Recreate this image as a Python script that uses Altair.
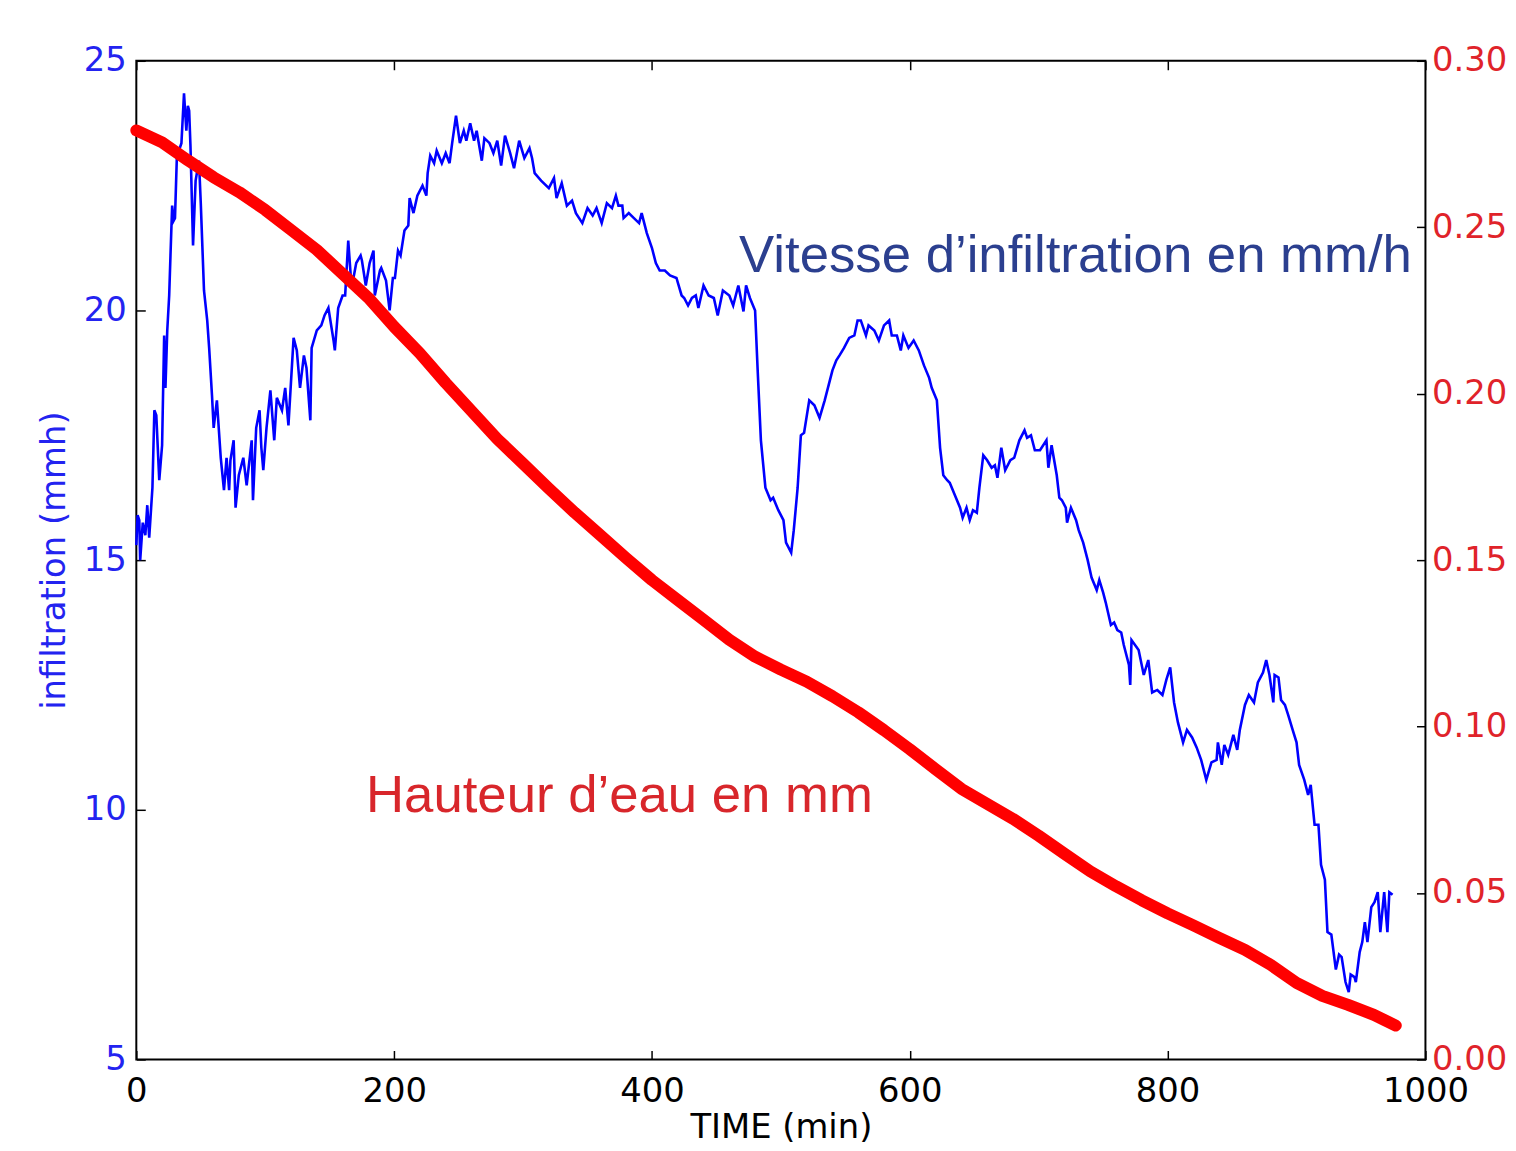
import altair as alt
import pandas as pd

# ---- data ----
t_inf = [0, 1, 2.3, 3, 5, 7, 8.5, 10, 12.5, 14, 15.5, 17.8, 20, 21.6, 22.6, 24, 25.5, 26.5, 27.8, 29,
         30, 31.6, 33, 35, 37, 38.8, 40, 41, 42, 44, 46, 48.6, 50, 52.5, 55, 56.5, 58.7, 60, 62.5, 65.5,
         68, 70, 72, 73, 75.5, 77, 79.5, 83, 85.6, 89.5, 90.5, 93, 95.6, 97, 98.5, 101, 104, 107, 109, 113,
         115.5, 118, 122, 124.5, 127, 130, 132, 135, 136, 140, 143.5, 146, 149, 153, 154, 156.6, 160, 162,
         164.4, 167, 170.6, 174, 175, 178, 181, 184, 185, 189, 190, 193.7, 196.5, 199, 200.6, 203, 205,
         208, 211, 212, 215, 218, 222, 225, 226, 228, 231, 233, 237, 240, 243, 245, 248, 251, 254, 256,
         259, 262, 264, 268, 270, 274, 277, 280, 283, 286, 290, 293, 297, 301, 305, 307, 309, 314, 320,
         324, 326, 330, 334, 338, 341, 346, 350, 354, 357, 361, 365, 369, 372, 374, 377, 378, 382, 386,
         390, 392, 396, 400, 403, 406, 410, 414, 419, 423, 425, 428, 431, 434, 436, 440, 444, 448, 451,
         455, 460, 463, 467, 471, 473, 476, 480, 482, 484.5, 488, 492, 494, 498, 502, 504, 508, 510, 513,
         515.5, 518, 522, 526, 530, 534, 538, 540, 543, 545.5, 549, 553, 557, 559.5, 562, 566, 568, 572.5,
         576, 580, 584, 586, 590, 593, 595, 599, 603, 607, 611, 615, 617, 621, 623.5, 626, 629, 631, 635,
         639, 641, 644, 646.5, 649, 652, 654, 657, 660, 663.5, 666, 668, 671, 674, 678, 681, 685, 689,
         691, 694, 697, 701, 706, 707.5, 710, 714, 716, 718, 721, 722, 725, 729, 731, 734.5, 738, 741,
         745, 747, 750, 752, 756, 758.5, 761, 764, 766, 770, 771, 772, 777.5, 781.5, 785, 788, 792, 796,
         799, 802, 805, 808, 812, 815, 819, 822.5, 826, 830, 834, 838, 839, 842, 844, 847, 851, 854, 856,
         860, 863, 867, 870, 874, 876.5, 879, 882, 883, 886, 888, 891, 893.5, 897, 900, 902, 906, 909,
         911, 914, 917, 919, 922, 924, 927, 930.5, 933, 935, 938, 940.5, 942, 945, 946, 949, 951, 953,
         955, 958, 960.5, 963, 965, 968, 970.5, 972, 974.5]
v_inf = [15.3, 15.9, 15.8, 15.0, 15.75, 15.5, 16.1, 15.45, 16.45, 18.0, 17.9, 16.6, 17.3, 19.5, 18.45, 19.6, 20.3, 21.1, 22.1, 21.8,
         21.85, 23.2, 23.2, 23.35, 24.35, 23.6, 24.1, 24.0, 23.3, 21.3, 22.6, 23.0, 22.15, 20.4, 19.8, 19.25, 18.3, 17.65, 18.2, 17.05,
         16.4, 17.05, 16.4, 17.0, 17.4, 16.05, 16.7, 17.05, 16.5, 17.4, 16.2, 17.65, 18.0, 17.25, 16.8, 17.65, 18.4, 17.4, 18.25, 18.0,
         18.45, 17.7, 19.45, 19.2, 18.45, 19.1, 18.85, 17.8, 19.25, 19.6, 19.7, 19.9, 20.05, 19.4, 19.2, 20.05, 20.3, 20.3,
         21.4, 20.45, 20.95, 21.1, 21.0, 20.5, 20.95, 21.2, 20.3, 20.8, 20.85, 20.6, 20.0, 20.65, 20.65, 21.2, 21.1,
         21.6, 21.7, 22.25, 21.95, 22.3, 22.5, 22.3, 22.75, 23.1, 22.95, 23.2, 22.95, 23.15, 22.95, 23.35, 23.9, 23.35, 23.6, 23.4,
         23.75, 23.4, 23.6, 23.0, 23.45, 23.35, 23.15, 23.4, 22.9, 23.5, 23.15, 22.85, 23.4, 23.05, 23.25, 23.05, 22.75, 22.6, 22.45,
         22.65, 22.25, 22.55, 22.1, 22.2, 21.95, 21.75, 22.05, 21.9, 22.05, 21.75, 22.15, 22.05, 22.3, 22.1, 22.1, 21.85, 21.95, 21.85,
         21.75, 21.95, 21.55, 21.25, 20.95, 20.8, 20.8, 20.7, 20.65, 20.3, 20.25, 20.1, 20.25, 20.3, 20.05, 20.5, 20.3, 20.25, 19.9,
         20.4, 20.3, 20.1, 20.5, 19.98, 20.5, 20.25, 20.0, 18.8, 17.4, 16.45, 16.2, 16.25, 16.0, 15.8, 15.35, 15.15, 15.6, 16.45,
         17.5, 17.55, 18.2, 18.1, 17.85, 18.2, 18.6, 18.8, 19.0, 19.1, 19.25, 19.45, 19.5, 19.8, 19.8, 19.5, 19.7, 19.6,
         19.4, 19.7, 19.8, 19.5, 19.5, 19.2, 19.5, 19.25, 19.4, 19.2, 18.9, 18.65, 18.45, 18.2, 17.25, 16.7, 16.6, 16.55, 16.3,
         16.05, 15.85, 16.05, 15.8, 16.0, 15.95, 16.45, 17.1, 17.0, 16.85, 16.9, 16.65, 17.25, 16.8, 17.0, 17.05, 17.4, 17.6,
         17.45, 17.5, 17.2, 17.2, 17.4, 16.85, 17.3, 16.7, 16.25, 16.2, 16.05, 15.75, 16.05, 15.8, 15.6, 15.35, 15.0, 14.65,
         14.4, 14.6, 14.35, 14.15, 13.7, 13.75, 13.6, 13.55, 13.3, 12.9, 12.5, 13.4, 13.2, 12.7, 13.0, 12.35, 12.4, 12.3,
         12.6, 12.85, 12.15, 11.75, 11.35, 11.6, 11.45, 11.25, 11.0, 10.6, 10.95, 11.0, 11.35, 10.9, 11.3, 11.1, 11.5, 11.2, 11.6,
         12.1, 12.3, 12.15, 12.55, 12.75, 13.0, 12.7, 12.15, 12.7, 12.65, 12.2, 12.1, 11.9, 11.6, 11.35, 10.9, 10.6, 10.3,
         10.5, 9.7, 9.7, 8.9, 8.6, 7.55, 7.5, 6.8, 7.1, 7.05, 6.55, 6.35, 6.7, 6.65, 6.55, 7.15, 7.35, 7.75,
         7.35, 8.05, 8.15, 8.35, 7.55, 8.35, 7.55, 8.35, 8.3]

t_h = [0, 20, 40, 60, 80, 100, 120, 140, 160, 180, 200, 220, 240, 260, 280, 300, 320, 340, 360, 380,
       400, 420, 440, 460, 480, 500, 520, 540, 560, 580, 600, 620, 640, 660, 680, 700, 720, 740, 760,
       780, 800, 820, 840, 860, 880, 900, 920, 940, 960, 977]
v_h = [0.2791, 0.2755, 0.2701, 0.2650, 0.2605, 0.2552, 0.2492, 0.2432, 0.2360, 0.2288, 0.2201, 0.2121,
       0.2032, 0.1948, 0.1864, 0.1790, 0.1715, 0.1643, 0.1575, 0.1506, 0.1440, 0.1380, 0.1321, 0.1261,
       0.1210, 0.1171, 0.1135, 0.1091, 0.1043, 0.0989, 0.0932, 0.0872, 0.0813, 0.0768, 0.0723, 0.0672,
       0.0618, 0.0565, 0.0520, 0.0478, 0.0439, 0.0403, 0.0365, 0.0329, 0.0284, 0.0230, 0.0191, 0.0164,
       0.0134, 0.0102]

x_ticks = [0, 200, 400, 600, 800, 1000]
left_ticks = [5, 10, 15, 20, 25]
right_ticks = [0.0, 0.05, 0.10, 0.15, 0.20, 0.25, 0.30]

ann_text = ["Vitesse d\u2019infiltration en mm/h", "Hauteur d\u2019eau en mm"]
ann_t = [467.6, 178.2]
ann_v = [20.78, 9.96]
ann_color = ["#2b3f8f", "#d8262b"]

W, H = 1296, 1004
FONT = "DejaVu Sans"
FS = 34

df_inf = pd.DataFrame({"t": t_inf, "v": v_inf})
df_h = pd.DataFrame({"t": t_h, "h": v_h})
df_ann = pd.DataFrame({"t": ann_t, "v": ann_v, "label": ann_text, "c": ann_color})

xscale = alt.Scale(domain=[0, 1000], nice=False, zero=False)
yL = alt.Scale(domain=[5, 25], nice=False, zero=False)
yR = alt.Scale(domain=[0, 0.30], nice=False, zero=False)

tick_axis = dict(labels=False, domain=False, grid=False, ticks=True, tickSize=9,
                 tickColor="black", tickWidth=1.5)

blue = alt.Chart(df_inf).mark_line(color="#0000ff", strokeWidth=2.6).encode(
    x=alt.X("t:Q", scale=xscale, title="TIME (min)",
            axis=alt.Axis(orient="bottom", values=x_ticks, format="d", labelFont=FONT, labelFontSize=FS,
                          labelColor="black", labelPadding=15, labelFlush=False, ticks=False,
                          domain=False, grid=False,
                          titleFont=FONT, titleFontSize=FS, titleFontWeight="normal", titleColor="black",
                          titlePadding=2)),
    y=alt.Y("v:Q", scale=yL, title="infiltration (mmh)",
            axis=alt.Axis(orient="left", values=left_ticks, format="d", labelFont=FONT, labelFontSize=FS,
                          labelColor="#2323f0", labelPadding=10, labelFlush=False, ticks=False,
                          domain=False, grid=False,
                          titleFont=FONT, titleFontSize=FS, titleFontWeight="normal", titleColor="#2323f0",
                          titlePadding=12)),
)

blue_ticks = alt.Chart(df_inf).mark_line(opacity=0).encode(
    x=alt.X("t:Q", scale=xscale, title=None,
            axis=alt.Axis(orient="top", offset=-H, values=x_ticks, **tick_axis)),
    y=alt.Y("v:Q", scale=yL, title=None,
            axis=alt.Axis(orient="right", offset=-W, values=left_ticks, **tick_axis)),
)

red = alt.Chart(df_h).mark_line(color="#ff0000", strokeWidth=12, strokeCap="round",
                                strokeJoin="round").encode(
    x=alt.X("t:Q", scale=xscale, title=None,
            axis=alt.Axis(orient="bottom", offset=-H, values=x_ticks, **tick_axis)),
    y=alt.Y("h:Q", scale=yR, title=None,
            axis=alt.Axis(orient="right", values=right_ticks, format=".2f", labelFont=FONT,
                          labelFontSize=FS, labelColor="#e0232a", labelPadding=6, labelFlush=False,
                          ticks=False, domain=False, grid=False)),
)

red_ticks = alt.Chart(df_h).mark_line(opacity=0).encode(
    x=alt.X("t:Q", scale=xscale, axis=None),
    y=alt.Y("h:Q", scale=yR, title=None,
            axis=alt.Axis(orient="left", offset=-W, values=right_ticks, **tick_axis)),
)

ann = alt.Chart(df_ann).mark_text(font="Liberation Sans", fontSize=53, align="left",
                                  baseline="alphabetic").encode(
    x=alt.X("t:Q", scale=xscale, axis=None),
    y=alt.Y("v:Q", scale=yL, axis=None),
    text="label:N",
    color=alt.Color("c:N", scale=None),
)

chart = alt.layer(blue, blue_ticks, red, red_ticks, ann).resolve_scale(
    y="independent"
).resolve_axis(
    x="independent", y="independent"
).properties(
    width=W, height=H,
    autosize=alt.AutoSizeParams(type="none"),
    padding={"left": 129, "top": 50, "right": 83, "bottom": 100},
).configure_view(stroke="black", strokeWidth=2)

chart.save("out.html", embed_options={"renderer": "svg", "actions": False})
